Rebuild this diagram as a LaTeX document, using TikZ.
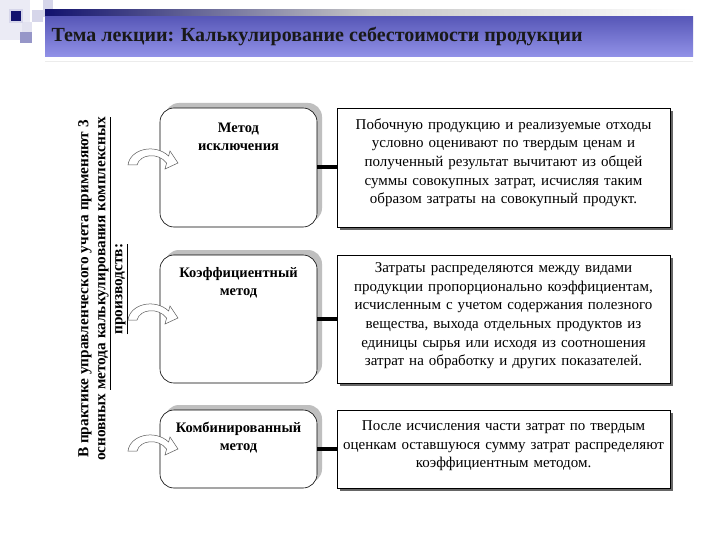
\documentclass[tikz,border=0pt]{standalone}
\usepackage{fontspec}
\setmainfont{Liberation Serif}
\usetikzlibrary{shadows}

\definecolor{bandtop}{RGB}{88,88,184}
\definecolor{bandbot}{RGB}{146,146,232}
\definecolor{navy}{RGB}{18,18,110}
\definecolor{lilac}{RGB}{214,214,234}
\definecolor{slate}{RGB}{150,150,200}

\begin{document}
\begin{tikzpicture}[x=1pt,y=-1pt,
  method/.style={draw=black,fill=white,rounded corners=14pt,minimum width=157pt,line width=.6pt,
    drop shadow={shadow xshift=5pt,shadow yshift=5pt,opacity=1,fill=gray!50}},
  methodtext/.style={anchor=north,align=center,font=\bfseries\fontsize{14.5}{18}\selectfont},
  note/.style={draw=black,fill=white,minimum width=333pt,text width=326pt,align=center,line width=.6pt,
    font=\fontsize{15}{18.6}\selectfont,
    drop shadow={shadow xshift=3pt,shadow yshift=-3pt,opacity=1,fill=black!60}},
  link/.style={line width=4pt},
  bendarrow/.style={draw=black!65,fill=white,line width=.5pt}]
\useasboundingbox[fill=white] (0,0) rectangle (720,540);
% corner squares
\fill[lilac!50] (0,0) rectangle (30,40);
\fill[lilac] (32,10) rectangle (43,22);
\fill[lilac] (43,0) rectangle (53,17);
\fill[lilac!70] (22,22) rectangle (32,32);
\fill[slate] (20,32) rectangle (32,43);
\fill[lilac] (9,9) rectangle (23,23);
\fill[navy] (11,11) rectangle (21,21);
% title band
\shade[left color=navy,right color=white,middle color=gray!45] (45,10) rectangle (693,17);
\shade[top color=bandtop,bottom color=bandbot] (45,17) rectangle (693,57);
\draw[gray!15] (45,61) -- (693,61);
\node[anchor=west,font=\bfseries\fontsize{20}{24}\selectfont,text=black!90] (title) at (48,37)
  {Тема лекции: Калькулирование себестоимости продукции};
% side caption
\node[rotate=90,align=center,font=\bfseries\fontsize{15.3}{17}\selectfont] (caption) at (103,289)
  {В практике управленческого учета применяют 3\\
   основных \underline{метода калькулирования комплексных}\\
   \underline{производств:}};
% methods
\node[method,minimum height=119pt] (m1) at (238.5,167.5) {};
\node[methodtext] (m1t) at ([yshift=-12pt]m1.north) {Метод\\исключения};
\node[method,minimum height=128pt] (m2) at (238.5,319) {};
\node[methodtext] (m2t) at ([yshift=-9pt]m2.north) {Коэффициентный\\метод};
\node[method,minimum height=78pt] (m3) at (238.5,449) {};
\node[methodtext] (m3t) at ([yshift=-9pt]m3.north) {Комбинированный\\метод};
% descriptions
\node[note,minimum height=119pt] (d1) at (503.5,167.5)
  {Побочную продукцию и реализуемые отходы\\условно оценивают по твердым ценам и\\полученный результат вычитают из общей\\суммы совокупных затрат, исчисляя таким\\образом затраты на совокупный продукт.\\[-6pt]\mbox{}};
\node[note,minimum height=128pt] (d2) at (503.5,319)
  {Затраты распределяются между видами\\продукции пропорционально коэффициентам,\\исчисленным с учетом содержания полезного\\вещества, выхода отдельных продуктов из\\единицы сырья или исходя из соотношения\\затрат на обработку и других показателей.\\[-9pt]\mbox{}};
\node[note,minimum height=78pt] (d3) at (503.5,449)
  {После исчисления части затрат по твердым\\оценкам оставшуюся сумму затрат распределяют\\коэффициентным методом.\\[-9pt]\mbox{}};
\draw[link] (m1) -- (d1);
\draw[link] (m2) -- (d2);
\draw[link] (m3) -- (d3);
% curved arrows
\foreach \yy in {165,320,451}
  \draw[bendarrow,shift={(128,\yy)}] (0,0) .. controls (2,-16) and (27,-22) .. (40.6,-9)
    -- (42,-14) -- (50,-2) -- (37,4) -- (38.6,-2)
    .. controls (30,-13) and (12,-11) .. (9,0) -- cycle;
\end{tikzpicture}
\end{document}
